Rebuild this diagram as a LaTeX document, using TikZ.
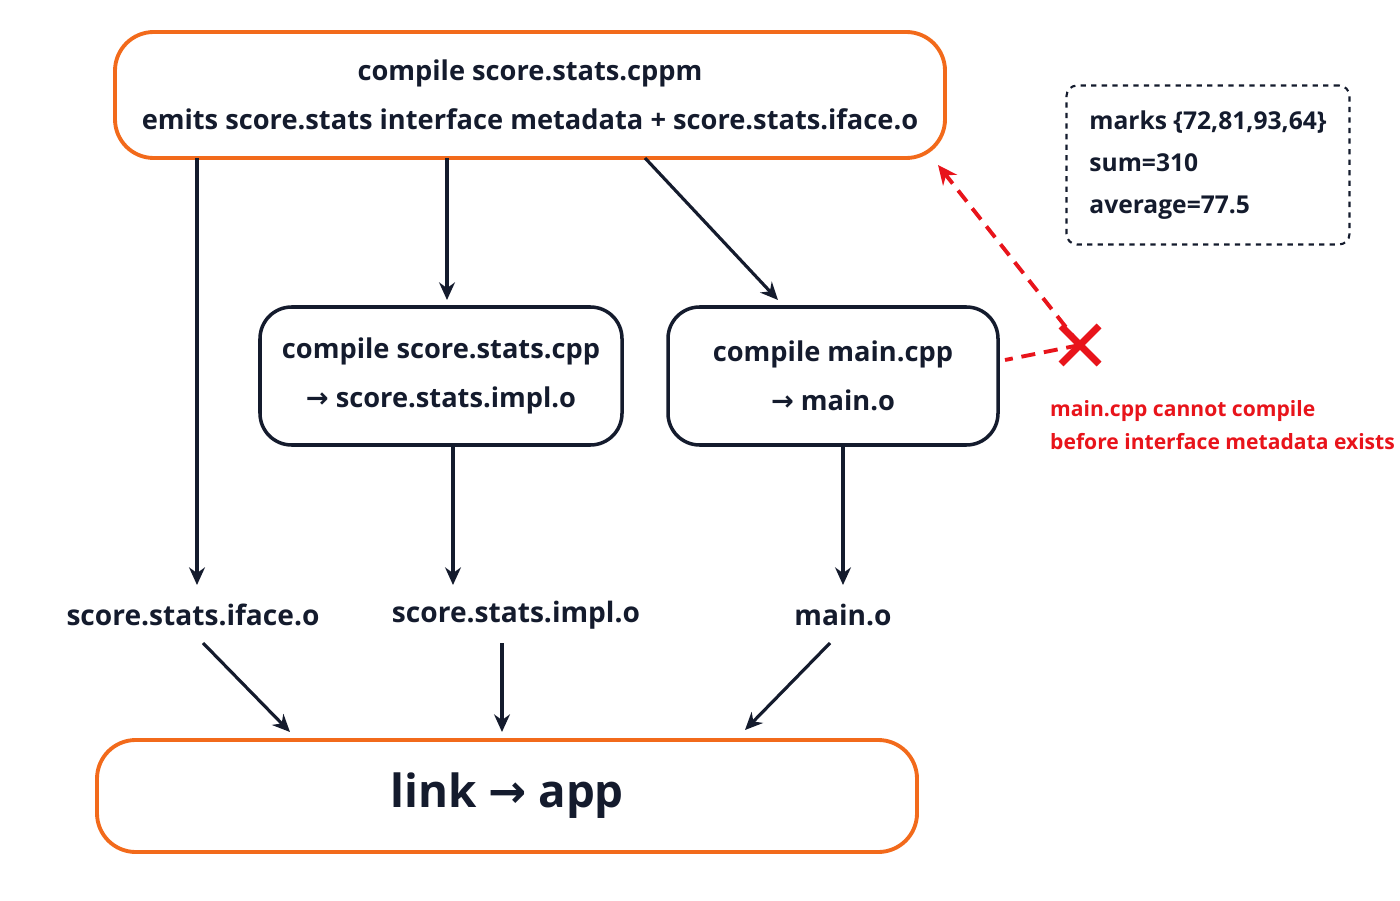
\documentclass[tikz,border=0pt]{standalone}
\usepackage{fontspec}
\setmainfont{Open Sans}
\newfontfamily\arrowfont{DejaVu Sans}
\usetikzlibrary{arrows.meta}
\definecolor{navy}{HTML}{141B2D}
\definecolor{orng}{HTML}{F26A1B}
\definecolor{errred}{HTML}{E8141B}
\newcommand{\rarr}{{\arrowfont\bfseries →}}
\tikzset{
  stage/.style={draw=orng, line width=2.2pt, rounded corners=22pt, align=center, text=navy},
  compstep/.style={draw=navy, line width=2pt, rounded corners=18pt, align=center, text=navy},
  file/.style={text=navy, font=\fontsize{16}{20}\selectfont\bfseries},
  flow/.style={-{Stealth[length=10pt,width=9pt]}, navy, line width=1.8pt},
  fail/.style={errred, dash pattern=on 8pt off 5pt, line width=2.2pt},
}
\begin{document}
\begin{tikzpicture}
\useasboundingbox (0,0) rectangle (28,18);

% Build stages
\node[stage, minimum width=16.6cm, minimum height=2.52cm, font=\fontsize{15.5}{26}\selectfont\bfseries] (cppm) at (10.6,16.1)
  {compile score.stats.cppm\\[2pt] emits score.stats interface metadata + score.stats.iface.o};
\node[compstep, minimum width=7.24cm, minimum height=2.76cm, font=\fontsize{15.5}{28}\selectfont\bfseries] (impl) at (8.82,10.48)
  {compile score.stats.cpp\\ \rarr{} score.stats.impl.o};
\node[compstep, minimum width=6.6cm, minimum height=2.76cm, font=\fontsize{15.5}{28}\selectfont\bfseries] (mcpp) at (16.66,10.48)
  {compile main.cpp\\ \rarr{} main.o};
\node[stage, minimum width=16.4cm, minimum height=2.24cm, font=\fontsize{26}{30}\selectfont\bfseries] (link) at (10.14,2.08)
  {link \rarr{} app};

% Object files
\node[file] (ifo) at (3.86,5.7) {score.stats.iface.o};
\node[file] (imo) at (10.32,5.7) {score.stats.impl.o};
\node[file] (mo) at (16.86,5.7) {main.o};

% Data note
\node[draw=navy, dashed, line width=1.2pt, rounded corners=6pt, minimum width=5.66cm, minimum height=3.18cm,
  align=left, text=navy, font=\fontsize{14}{24}\selectfont\bfseries] (note) at (24.16,14.7)
  {marks \{72,81,93,64\}\\ sum=310\\ average=77.5};

% Arrows
\draw[flow] (3.94,14.84) -- (3.94,6.3);
\draw[flow] (8.94,14.84) -- (8.94,12.0);
\draw[flow] (12.9,14.84) -- (15.56,12.0);
\draw[flow] (impl.south -| 9.06,0) -- (9.06,6.3);
\draw[flow] (mcpp.south -| 16.86,0) -- (16.86,6.3);
\draw[flow] (4.06,5.14) -- (5.8,3.36);
\draw[flow] (10.04,5.14) -- (10.04,3.36);
\draw[flow] (16.6,5.14) -- (14.9,3.4);

% Failure marker
\coordinate (x) at (21.6,11.1);
\draw[errred, line width=4pt] (21.22,10.72) -- (21.98,11.48) (21.22,11.48) -- (21.98,10.72);
\draw[fail, -{Stealth[length=11pt,width=10pt]}] (x) -- (18.76,14.7);
\draw[fail] (x) -- (20.1,10.8);
\node[errred, align=left, font=\fontsize{12}{19}\selectfont\bfseries] (err) at (24.45,9.5)
  {main.cpp cannot compile\\ before interface metadata exists};

\end{tikzpicture}
\end{document}
